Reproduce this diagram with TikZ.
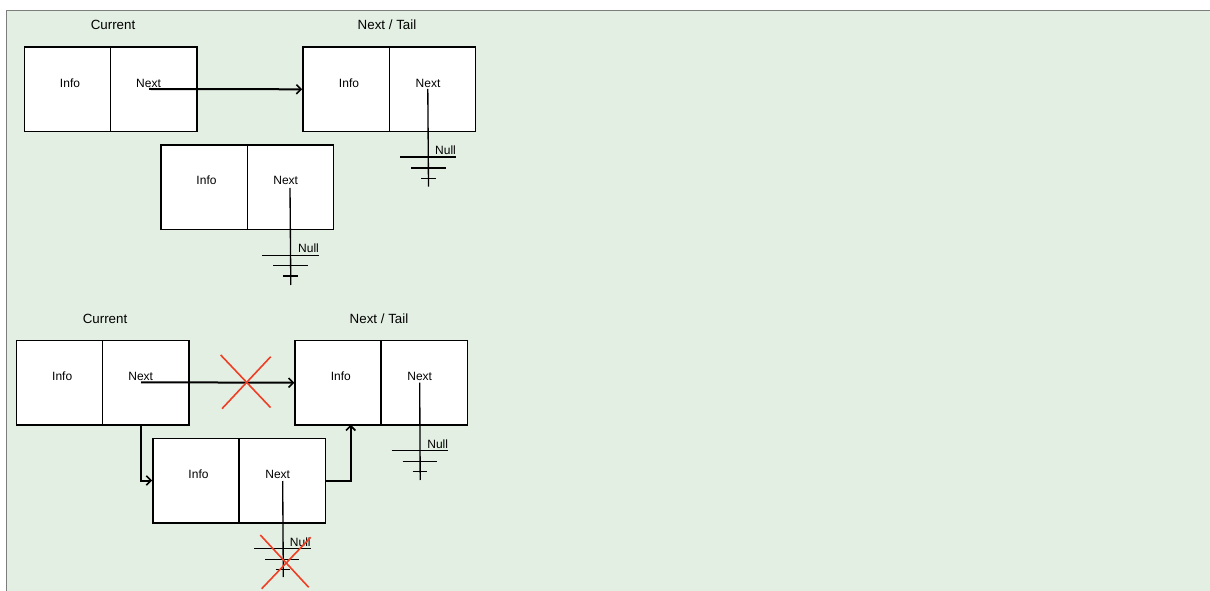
\documentclass[tikz,border=0pt]{standalone}
\usepackage{fontspec}
\setmainfont{Liberation Sans}
\usetikzlibrary{arrows.meta}
\definecolor{bgreen}{RGB}{228,239,227}
\definecolor{framegray}{RGB}{125,125,125}
\definecolor{xred}{RGB}{240,62,36}
\begin{document}
\begin{tikzpicture}[x=0.75pt,y=-0.75pt,
  cell/.style={draw=black, line width=1.1pt, fill=white, minimum width=64.75pt, minimum height=63.4pt, inner sep=0pt},
  celltext/.style={inner sep=0pt, text height=6.45pt, text depth=0pt, font=\fontsize{9}{10}\selectfont},
  title/.style={inner sep=0pt, text height=7.2pt, text depth=0pt, font=\fontsize{10}{12}\selectfont},
  link/.style={draw=black, line width=1.5pt, -{Straight Barb[length=3.5pt,width=7pt,line width=1.2pt]}},
  nullline/.style={draw=black, line width=1pt},
  cross/.style={draw=xred, line width=1.2pt}]
\useasboundingbox (0,0) rectangle (1210,591);
\fill[bgreen] (6,11) rectangle (1210,591);
\draw[framegray, line width=1.3pt] (6,10.5) -- (1210,10.5);
\draw[framegray, line width=0.8pt] (6.5,10.5) -- (6.5,591);

% ---------- top group ----------
\node[title] (t1c) at (113,25) {Current};
\node[title] (t1n) at (387,25) {Next / Tail};
\node[cell] (ai) at (67.4,89.3) {};
\node[cell] (an) at (153.8,89.3) {};
\node[cell] (bi) at (346.1,89.3) {};
\node[cell] (bn) at (432.5,89.3) {};
\node[cell] (ci) at (204.1,187.2) {};
\node[cell] (cn) at (290.5,187.2) {};
\node[celltext] (aitx) at (70,83) {Info};
\node[celltext] (antx) at (148.5,83) {Next};
\node[celltext] (bitx) at (349,83) {Info};
\node[celltext] (bntx) at (428,83) {Next};
\node[celltext] (citx) at (206.5,180.5) {Info};
\node[celltext] (cntx) at (285.7,180.5) {Next};

\coordinate (aptr) at (149,89);
\draw[link] (aptr) -- (bi.west);

% null of B
\coordinate (bptr) at (427.8,89);
\coordinate (bg) at (428.5,157);
\draw[nullline] (bptr) -- ([shift={(0,29.7)}]bg);
\draw[nullline] ([shift={(-28.5,0)}]bg) -- ([shift={(27,0)}]bg);
\draw[nullline] ([shift={(-17.5,11)}]bg) -- ([shift={(17,11)}]bg);
\draw[nullline] ([shift={(-7.5,21.7)}]bg) -- ([shift={(7,21.7)}]bg);
\node[celltext] (bnull) at (445.5,150.2) {Null};

% null of C
\coordinate (cptr) at (290,188);
\coordinate (cg) at (290.8,255.7);
\draw[nullline] (cptr) -- ([shift={(0,29.3)}]cg);
\draw[nullline] ([shift={(-28.8,0)}]cg) -- ([shift={(28,0)}]cg);
\draw[nullline] ([shift={(-17.8,10)}]cg) -- ([shift={(17.2,10)}]cg);
\draw[nullline] ([shift={(-7.8,20.3)}]cg) -- ([shift={(7.2,20.3)}]cg);
\node[celltext] (cnull) at (308.5,248) {Null};

% ---------- bottom group ----------
\node[title] (t2c) at (105,318.3) {Current};
\node[title] (t2n) at (379,318.3) {Next / Tail};
\node[cell] (di) at (59.7,382.7) {};
\node[cell] (dn) at (145.7,382.7) {};
\node[cell] (ei) at (338.3,382.7) {};
\node[cell] (en) at (424.3,382.7) {};
\node[cell] (fi) at (196,480.5) {};
\node[cell] (fn) at (282.3,480.5) {};
\node[celltext] (ditx) at (62.2,376) {Info};
\node[celltext] (dntx) at (140.7,376) {Next};
\node[celltext] (eitx) at (340.8,376) {Info};
\node[celltext] (entx) at (419.7,376) {Next};
\node[celltext] (fitx) at (198.5,474) {Info};
\node[celltext] (fntx) at (277.7,474) {Next};

\coordinate (dptr) at (141,382.3);
\draw[link] (dptr) -- (ei.west);
\draw[cross] (220.7,355) -- (270.5,407.5);
\draw[cross] (270.7,356.7) -- (222,408.7);

\coordinate (ddown) at (141,424.7);
\draw[link] (ddown) |- (fi.west);
\coordinate (eup) at (350.7,424.7);
\draw[link] (fn.east) -| (eup);

% null of E
\coordinate (eptr) at (419.7,382.7);
\coordinate (eg) at (420.2,450.7);
\draw[nullline] (eptr) -- ([shift={(0,29.3)}]eg);
\draw[nullline] ([shift={(-28.5,0)}]eg) -- ([shift={(27.8,0)}]eg);
\draw[nullline] ([shift={(-17.5,10.6)}]eg) -- ([shift={(16.5,10.6)}]eg);
\draw[nullline] ([shift={(-7.5,21)}]eg) -- ([shift={(6.8,21)}]eg);
\node[celltext] (enull) at (437.7,443.7) {Null};

% null of F
\coordinate (fptr) at (282.7,481);
\coordinate (fg) at (283.3,548.7);
\draw[nullline] (fptr) -- ([shift={(0,28.3)}]fg);
\draw[nullline] ([shift={(-29.3,0)}]fg) -- ([shift={(27.4,0)}]fg);
\draw[nullline] ([shift={(-18,10.6)}]fg) -- ([shift={(16,10.6)}]fg);
\draw[nullline] ([shift={(-7.6,20.6)}]fg) -- ([shift={(6.7,20.6)}]fg);
\node[celltext] (fnull) at (300.3,541.7) {Null};
\draw[cross] (260.3,535) -- (308.7,587.3);
\draw[cross] (310.7,537.3) -- (261.7,588.7);
\end{tikzpicture}
\end{document}
